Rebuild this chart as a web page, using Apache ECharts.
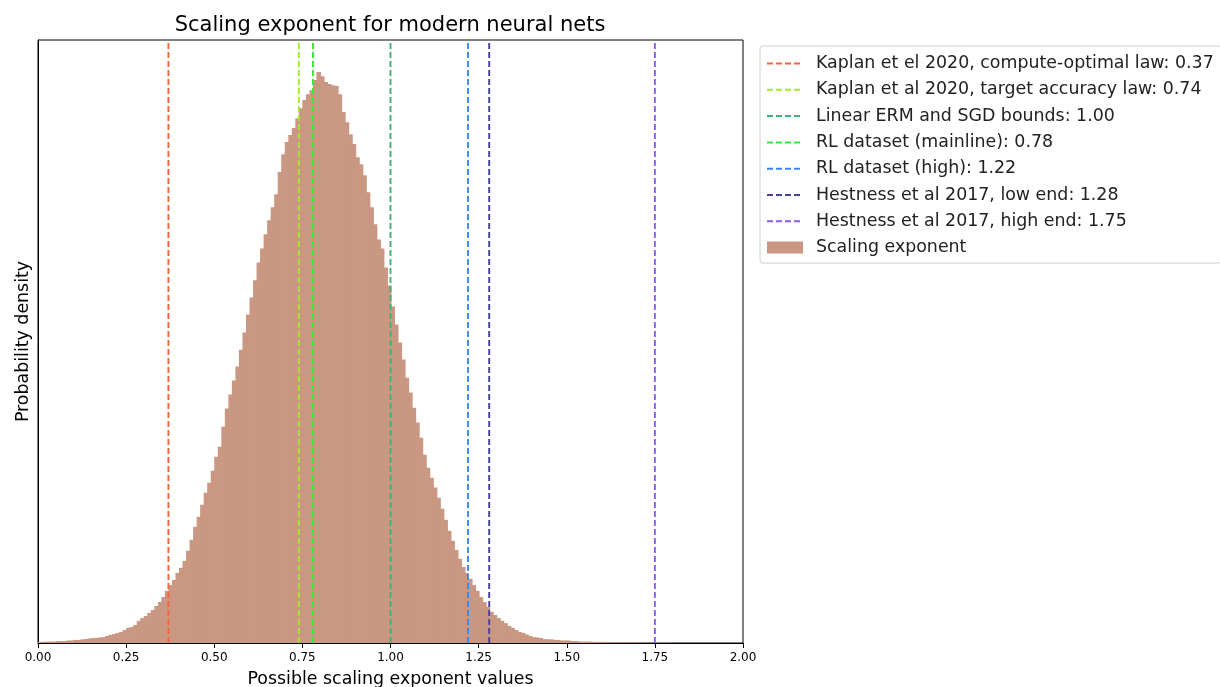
<!DOCTYPE html>
<html>
<head>
<meta charset="utf-8">
<script src="https://cdn.jsdelivr.net/npm/echarts@6/dist/echarts.min.js"></script>
<style>
html,body{margin:0;padding:0;background:#fff;}
#chart{width:1220px;height:687px;}
</style>
</head>
<body>
<div id="chart"></div>
<script>
// ---- Data ----
const title = 'Scaling exponent for modern neural nets';
const xAxisName = 'Possible scaling exponent values';
const yAxisName = 'Probability density';
const xTicks = [0, 0.25, 0.5, 0.75, 1.0, 1.25, 1.5, 1.75, 2.0];

// Histogram: bins of width 0.01 starting at 0.00
const binStart = 0.0;
const binWidth = 0.01;
const densities = [
  0.004,0.004,0.005,0.005,0.005,0.007,0.007,0.007,0.009,0.009,
  0.011,0.011,0.013,0.014,0.016,0.018,0.018,0.020,0.021,0.025,
  0.029,0.032,0.036,0.039,0.046,0.054,0.057,0.064,0.079,0.089,
  0.096,0.107,0.118,0.132,0.146,0.164,0.186,0.207,0.225,0.250,
  0.268,0.293,0.329,0.368,0.414,0.450,0.493,0.536,0.571,0.614,
  0.664,0.700,0.771,0.836,0.886,0.936,0.986,1.046,1.107,1.171,
  1.232,1.293,1.357,1.407,1.457,1.507,1.554,1.600,1.679,1.743,
  1.786,1.811,1.836,1.871,1.907,1.936,1.957,1.971,2.007,2.036,
  2.021,2.000,1.993,1.989,1.986,1.957,1.893,1.857,1.814,1.779,
  1.732,1.707,1.668,1.607,1.554,1.493,1.439,1.407,1.339,1.275,
  1.200,1.136,1.071,1.011,0.946,0.893,0.839,0.786,0.732,0.671,
  0.625,0.589,0.554,0.518,0.479,0.439,0.400,0.364,0.332,0.300,
  0.271,0.250,0.229,0.207,0.186,0.164,0.146,0.129,0.111,0.100,
  0.089,0.079,0.071,0.061,0.054,0.046,0.039,0.036,0.030,0.025,
  0.021,0.020,0.018,0.014,0.013,0.013,0.011,0.011,0.009,0.009,
  0.009,0.007,0.007,0.005,0.005,0.005,0.005,0.004,0.004,0.004,
  0.004,0.003,0.003,0.002,0.002,0.002,0.002,0.002,0.002,0.002,
  0.001,0.001,0.001,0.001,0.001,0.001,0.001,0.001,0.001,0.001,
  0,0,0,0,0,0,0,0,0,0,
  0,0,0,0,0,0,0,0,0,0
];
const histName = 'Scaling exponent';

// Reference exponents (vertical dashed lines)
const refNames = [
  'Kaplan et el 2020, compute-optimal law: 0.37',
  'Kaplan et al 2020, target accuracy law: 0.74',
  'Linear ERM and SGD bounds: 1.00',
  'RL dataset (mainline): 0.78',
  'RL dataset (high): 1.22',
  'Hestness et al 2017, low end: 1.28',
  'Hestness et al 2017, high end: 1.75'
];
const refValues = [0.37, 0.74, 1.00, 0.78, 1.22, 1.28, 1.75];
const refColors = ['#f4643c', '#a0ec2c', '#3cb371', '#3ae63a', '#3a88f2', '#45409a', '#8a5cf2'];

const yMax = 2.15;
const histColor = '#c99782';
const FONT = 'DejaVu Sans';

// ---- Build chart ----
const histData = densities.map((d, i) => [binStart + i * binWidth, d]);

const lineSeries = refNames.map((name, i) => ({
  name: name,
  type: 'line',
  data: [[refValues[i], 0], [refValues[i], yMax]],
  symbol: 'none',
  z: 5,
  lineStyle: { color: refColors[i], width: 1.9, type: [6, 3] },
  itemStyle: { color: refColors[i] },
  silent: true
}));

const histSeries = {
  name: histName,
  type: 'custom',
  data: histData,
  encode: { x: 0, y: 1 },
  itemStyle: { color: histColor },
  z: 2,
  renderItem: function (params, api) {
    const x0 = api.value(0), v = api.value(1);
    const p0 = api.coord([x0, 0]);
    const p1 = api.coord([x0 + binWidth, v]);
    return {
      type: 'rect',
      shape: { x: p0[0], y: p1[1], width: p1[0] - p0[0] + 1, height: p0[1] - p1[1] },
      style: { fill: histColor }
    };
  }
};

const chart = echarts.init(document.getElementById('chart'), null, { renderer: 'canvas' });
chart.setOption({
  animation: false,
  backgroundColor: '#fff',
  textStyle: { fontFamily: FONT },
  title: {
    text: title,
    left: 385, top: 10,
    textAlign: 'center',
    textStyle: { fontFamily: FONT, fontSize: 21, fontWeight: 'normal', color: '#000' }
  },
  grid: {
    left: 38, right: 477, top: 40, bottom: 44,
    outerBoundsMode: 'none',
    containLabel: false,
    show: true, borderColor: '#000', borderWidth: 1, backgroundColor: 'transparent'
  },
  legend: {
    orient: 'vertical',
    left: 760, top: 46,
    padding: [9, 8, 7, 6],
    itemGap: 9.3,
    itemWidth: 36,
    itemHeight: 12,
    borderColor: '#d0d0d0',
    borderWidth: 1,
    borderRadius: 3,
    backgroundColor: '#fff',
    textStyle: { fontFamily: FONT, fontSize: 17.4, color: '#222', padding: [0, 0, 0, 8] },
    data: refNames.map(n => ({ name: n, itemStyle: { opacity: 0 } }))
      .concat([{ name: histName, icon: 'rect' }])
  },
  xAxis: {
    type: 'value',
    min: 0, max: 2, interval: 0.25,
    name: xAxisName,
    nameLocation: 'middle',
    nameGap: 28,
    nameTextStyle: { fontFamily: FONT, fontSize: 17.4, color: '#000' },
    axisLine: { show: true, lineStyle: { color: '#000', width: 1 } },
    axisTick: { show: true, length: 5, lineStyle: { color: '#000' } },
    axisLabel: { fontFamily: FONT, fontSize: 12, color: '#000', margin: 9,
      formatter: v => v.toFixed(2) },
    splitLine: { show: false }
  },
  yAxis: {
    type: 'value',
    min: 0, max: yMax,
    name: yAxisName,
    nameLocation: 'middle',
    nameGap: 6,
    nameRotate: 90,
    nameTextStyle: { fontFamily: FONT, fontSize: 17.4, color: '#000' },
    axisLine: { show: true, lineStyle: { color: '#000', width: 1 } },
    axisTick: { show: false },
    axisLabel: { show: false },
    splitLine: { show: false }
  },
  series: [histSeries].concat(lineSeries)
});
</script>
</body>
</html>
